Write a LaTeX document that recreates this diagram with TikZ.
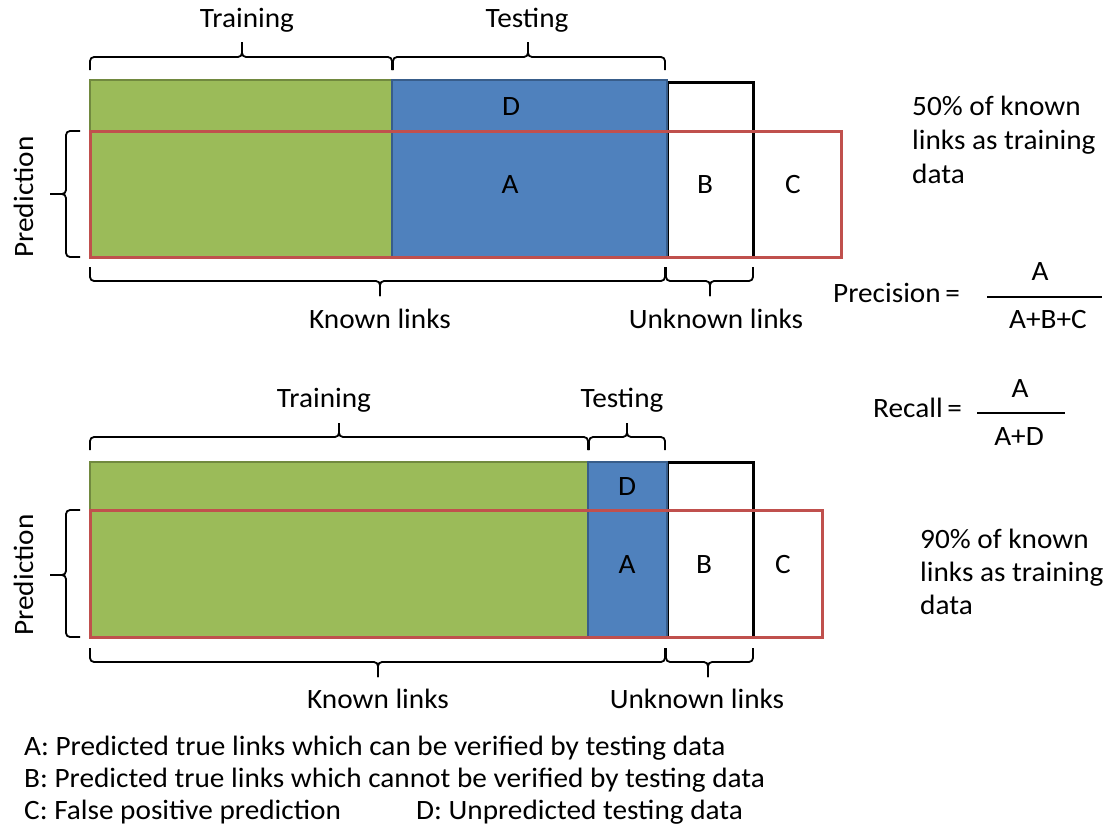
\documentclass[tikz,border=0pt]{standalone}
\usepackage{fontspec}
\setmainfont{Carlito}[FakeStretch=1.045]
\definecolor{gfill}{HTML}{9BBB59}
\definecolor{gline}{HTML}{71893F}
\definecolor{bfill}{HTML}{4F81BD}
\definecolor{bline}{HTML}{385D8A}
\definecolor{rline}{HTML}{C0504D}
\begin{document}
\begin{tikzpicture}[x=1pt,y=-1pt,
  txt/.style={font=\fontsize{28}{34}\selectfont, inner sep=0pt, text=black},
  bracepath/.style={draw=black, line width=1.8pt, rounded corners=4pt},
  greenbox/.style={fill=gfill, draw=gline, line width=1.8pt},
  bluebox/.style={fill=bfill, draw=bline, line width=1.8pt},
  blackbox/.style={draw=black, line width=3pt},
  redbox/.style={draw=rline, line width=3pt},
  fracline/.style={draw=black, line width=1.8pt}]
\useasboundingbox (0,0) rectangle (1107,833);
\fill[white] (0,0) rectangle (1107,833);

% ---------- top panel ----------
\draw[blackbox] (667,82) rectangle (753,257);
\draw[greenbox] (90,80) rectangle (392,257);
\draw[bluebox] (392,80) rectangle (667,257);
\draw[redbox] (90,131) rectangle (841,257);

\node[txt, anchor=base] (D1) at (511,115) {D};
\node[txt, anchor=base] (A1) at (510,193) {A};
\node[txt, anchor=base] (B1) at (705,193) {B};
\node[txt, anchor=base] (C1) at (793,193) {C};

% braces above
\draw[bracepath] (90,70) -- (90,57) -- (242,57) -- (242,42);
\draw[bracepath] (392,70) -- (392,57) -- (242,57) -- (242,42);
\draw[bracepath] (393,70) -- (393,57) -- (528,57) -- (528,42);
\draw[bracepath] (665,70) -- (665,57) -- (528,57) -- (528,42);
\node[txt, anchor=base] (tr1) at (247,27) {Training};
\node[txt, anchor=base] (te1) at (527,27) {Testing};

% braces below
\draw[bracepath] (90,267) -- (90,281) -- (380,281) -- (380,296);
\draw[bracepath] (665,267) -- (665,281) -- (380,281) -- (380,296);
\draw[bracepath] (666,267) -- (666,281) -- (710,281) -- (710,296);
\draw[bracepath] (753,267) -- (753,281) -- (710,281) -- (710,296);
\node[txt, anchor=base] (kn1) at (380,328) {Known links};
\node[txt, anchor=base] (un1) at (716,328) {Unknown links};

% prediction brace
\draw[bracepath] (80,131) -- (66,131) -- (66,194) -- (50,194);
\draw[bracepath] (80,257) -- (66,257) -- (66,194) -- (50,194);
\node[txt, anchor=base, rotate=90] (pr1) at (33,197) {Prediction};

\node[txt, anchor=base west] (r1a) at (912,115) {50\% of known};
\node[txt, anchor=base west] (r1b) at (912,149) {links as training};
\node[txt, anchor=base west] (r1c) at (912,183) {data};

% ---------- formulas ----------
\node[txt, anchor=base west] (prec) at (833,302) {Precision\,=};
\node[txt, anchor=base] (precA) at (1040,280) {A};
\coordinate (pl1) at (987,297);
\coordinate (pl2) at (1102,297);
\draw[fracline] (pl1) -- (pl2);
\node[txt, anchor=base] (precB) at (1048,328) {A+B+C};

\node[txt, anchor=base west] (rec) at (873,417) {Recall\,=};
\node[txt, anchor=base] (recA) at (1020,397) {A};
\coordinate (rl1) at (977,413);
\coordinate (rl2) at (1065,413);
\draw[fracline] (rl1) -- (rl2);
\node[txt, anchor=base] (recB) at (1019,445) {A+D};

% ---------- bottom panel ----------
\draw[blackbox] (667,462) rectangle (753,637);
\draw[greenbox] (90,462) rectangle (588,637);
\draw[bluebox] (588,462) rectangle (667,637);
\draw[redbox] (90,510) rectangle (822,637);

\node[txt, anchor=base] (D2) at (627,495) {D};
\node[txt, anchor=base] (A2) at (627,573) {A};
\node[txt, anchor=base] (B2) at (704,573) {B};
\node[txt, anchor=base] (C2) at (783,573) {C};

\draw[bracepath] (90,450) -- (90,437) -- (339,437) -- (339,423);
\draw[bracepath] (588,450) -- (588,437) -- (339,437) -- (339,423);
\draw[bracepath] (589,450) -- (589,437) -- (627,437) -- (627,423);
\draw[bracepath] (665,450) -- (665,437) -- (627,437) -- (627,423);
\node[txt, anchor=base] (tr2) at (324,407) {Training};
\node[txt, anchor=base] (te2) at (622,407) {Testing};

\draw[bracepath] (90,648) -- (90,662) -- (378,662) -- (378,677);
\draw[bracepath] (665,648) -- (665,662) -- (378,662) -- (378,677);
\draw[bracepath] (666,648) -- (666,662) -- (708,662) -- (708,677);
\draw[bracepath] (753,648) -- (753,662) -- (708,662) -- (708,677);
\node[txt, anchor=base] (kn2) at (378,708) {Known links};
\node[txt, anchor=base] (un2) at (697,708) {Unknown links};

\draw[bracepath] (80,510) -- (66,510) -- (66,575) -- (50,575);
\draw[bracepath] (80,637) -- (66,637) -- (66,575) -- (50,575);
\node[txt, anchor=base, rotate=90] (pr2) at (33,575) {Prediction};

\node[txt, anchor=base west] (r2a) at (920,548) {90\% of known};
\node[txt, anchor=base west] (r2b) at (920,581) {links as training};
\node[txt, anchor=base west] (r2c) at (920,614) {data};

% ---------- legend ----------
\node[txt, anchor=base west] (lgA) at (24,755) {A: Predicted true links which can be verified by testing data};
\node[txt, anchor=base west] (lgB) at (24,787) {B: Predicted true links which cannot be verified by testing data};
\node[txt, anchor=base west] (lgC) at (24,819) {C: False positive prediction};
\node[txt, anchor=base west] (lgD) at (416,819) {D: Unpredicted testing data};
\end{tikzpicture}
\end{document}
